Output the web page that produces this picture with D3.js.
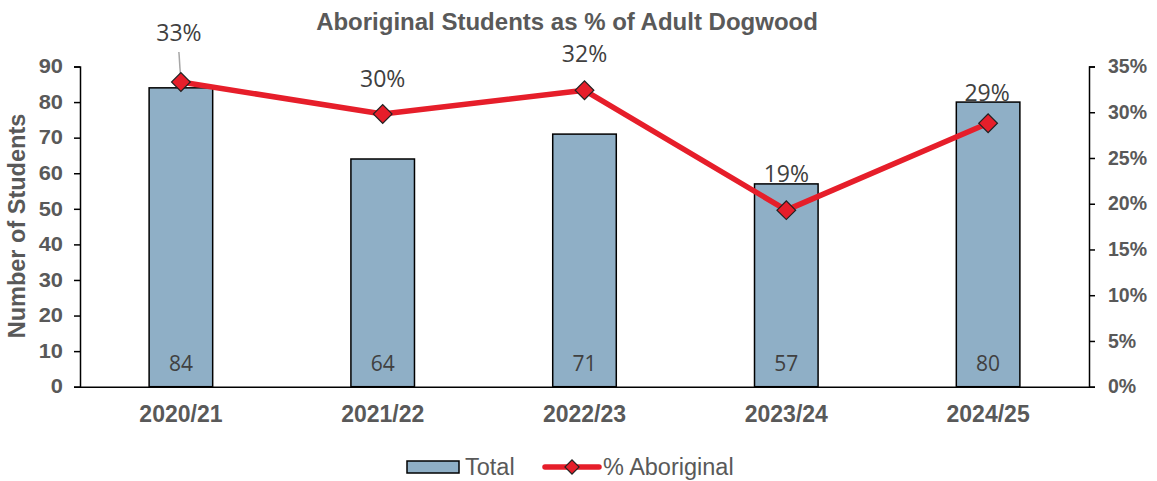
<!DOCTYPE html>
<html><head><meta charset="utf-8">
<script src="https://cdn.jsdelivr.net/npm/d3@7"></script>
<style>body{margin:0;background:#fff}svg{display:block}</style>
</head><body><svg id="c" width="1157" height="481"></svg>
<script>
const categories = ["2020/21","2021/22","2022/23","2023/24","2024/25"];
const totals = [84,64,71,57,80];
const pctAboriginal = [33.3,29.8,32.4,19.3,28.8];
const pctLabels = ["33%","30%","32%","19%","29%"];
const leftTicks = [0,10,20,30,40,50,60,70,80,90];
const rightTicks = [0,5,10,15,20,25,30,35];

const svg = d3.select("#c");
const L = 80, R = 1089, T = 66.5, B = 386.7;
const x = d3.scaleBand().domain(categories).range([L,R]).paddingInner(0.685).paddingOuter(0.3425);
const y = d3.scaleLinear().domain([0,90]).range([B,T]);
const y2 = d3.scaleLinear().domain([0,35]).range([B,T]);
const grey = "#595959", dark = "#404040";
const sans = "Liberation Sans, Arial, sans-serif";

// title
svg.append("text").attr("x",567).attr("y",30).attr("text-anchor","middle")
  .attr("font-family",sans).attr("font-weight","bold").attr("font-size",24).attr("fill",grey)
  .text("Aboriginal Students as % of Adult Dogwood");

// bars
svg.selectAll("rect.bar").data(categories).join("rect").attr("class","bar")
  .attr("x",d=>x(d)).attr("width",x.bandwidth())
  .attr("y",(d,i)=>y(totals[i])).attr("height",(d,i)=>B-y(totals[i]))
  .attr("fill","#8FAFC6").attr("stroke","#000").attr("stroke-width",1.5);

// bar labels
svg.selectAll("text.bl").data(categories).join("text").attr("class","bl")
  .attr("x",d=>x(d)+x.bandwidth()/2).attr("y",371).attr("text-anchor","middle")
  .attr("font-family","Open Sans, sans-serif").attr("font-size",21).attr("fill",dark)
  .text((d,i)=>totals[i]);

// left axis
const ax = d3.axisLeft(y).tickValues(leftTicks).tickSize(6).tickPadding(8);
const gL = svg.append("g").attr("transform",`translate(${L},0)`).call(ax);
gL.select(".domain").attr("stroke","#000").attr("stroke-width",1.5);
gL.selectAll(".tick line").attr("stroke","#000").attr("stroke-width",1.5);
gL.selectAll(".tick text").attr("font-family",sans).attr("font-weight","bold").attr("font-size",19.5).attr("fill",grey)
  .attr("x",-17/1.12).attr("transform","scale(1.12,1)");

// right axis
const ax2 = d3.axisRight(y2).tickValues(rightTicks).tickSize(6).tickPadding(8).tickFormat(d=>d+"%");
const gR = svg.append("g").attr("transform",`translate(${R},0)`).call(ax2);
gR.select(".domain").attr("stroke","#000").attr("stroke-width",1.5);
gR.selectAll(".tick line").attr("stroke","#000").attr("stroke-width",1.5);
gR.selectAll(".tick text").attr("font-family",sans).attr("font-weight","bold").attr("font-size",19.5).attr("fill",grey)
  .attr("x",19);

// bottom axis
const ax3 = d3.axisBottom(x).tickSize(0).tickPadding(0);
const gB = svg.append("g").attr("transform",`translate(0,${B})`).call(ax3);
gB.select(".domain").attr("stroke","#000").attr("stroke-width",1.5);
gB.selectAll(".tick text").attr("font-family",sans).attr("font-weight","bold").attr("font-size",23).attr("fill",grey)
  .attr("y",35).attr("dy",null);

// y axis title
svg.append("text").attr("transform","translate(25,226) rotate(-90)").attr("text-anchor","middle")
  .attr("font-family",sans).attr("font-weight","bold").attr("font-size",23.5).attr("fill",grey)
  .text("Number of Students");

// line
const cx = d => x(d)+x.bandwidth()/2;
const line = d3.line().x(d=>cx(d)).y((d,i)=>y2(pctAboriginal[i]));
svg.append("path").datum(categories).attr("d",line).attr("fill","none")
  .attr("stroke","#E61E2A").attr("stroke-width",5.5).attr("stroke-linejoin","round");

// leader line for first label
svg.append("line").attr("x1",cx(categories[0])-2).attr("y1",52).attr("x2",cx(categories[0])).attr("y2",y2(pctAboriginal[0]))
  .attr("stroke","#A6A6A6").attr("stroke-width",1.5);

// markers
svg.selectAll("path.mk").data(categories).join("path").attr("class","mk")
  .attr("transform",(d,i)=>`translate(${cx(d)},${y2(pctAboriginal[i])}) rotate(45)`)
  .attr("d",d3.symbol().type(d3.symbolSquare).size(175))
  .attr("fill","#E61E2A").attr("stroke","#222").attr("stroke-width",1.2);

// pct labels
const labelOffset = [-40.7,-27,-28.5,-28.5,-22.5];
const labelShift = [-2,0,0,0,-1];
svg.selectAll("text.pl").data(categories).join("text").attr("class","pl")
  .attr("x",(d,i)=>cx(d)+labelShift[i]).attr("y",(d,i)=>y2(pctAboriginal[i])+labelOffset[i])
  .attr("text-anchor","middle")
  .attr("font-family","Open Sans, sans-serif").attr("font-size",23).attr("fill",dark)
  .text((d,i)=>pctLabels[i]);

// legend
const lg = svg.append("g");
lg.append("rect").attr("x",407).attr("y",461).attr("width",52).attr("height",12)
  .attr("fill","#8FAFC6").attr("stroke","#000").attr("stroke-width",1.5);
lg.append("text").attr("x",465).attr("y",475).attr("font-family",sans).attr("font-size",23.5).attr("fill",grey).text("Total");
lg.append("line").attr("x1",545).attr("x2",599).attr("y1",467).attr("y2",467)
  .attr("stroke","#E61E2A").attr("stroke-width",5.5).attr("stroke-linecap","round");
lg.append("path").attr("transform","translate(572,467) rotate(45)").attr("d",d3.symbol().type(d3.symbolSquare).size(100))
  .attr("fill","#E61E2A").attr("stroke","#222").attr("stroke-width",1.2);
lg.append("text").attr("x",603).attr("y",475).attr("font-family",sans).attr("font-size",23.5).attr("fill",grey).text("% Aboriginal");
</script></body></html>
